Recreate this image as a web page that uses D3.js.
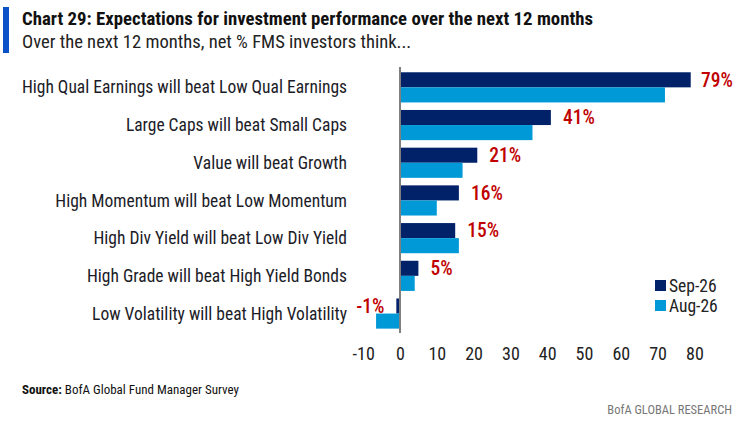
<!DOCTYPE html>
<html>
<head>
<meta charset="utf-8">
<script src="https://cdn.jsdelivr.net/npm/d3@7"></script>
<style>
  body { margin: 0; background: #fff; }
  text { font-family: "Liberation Sans Narrow", "Roboto Condensed", Roboto, sans-serif; }
</style>
</head>
<body>
<div id="graph-area"></div>
<script>
var categories = [
    "High Qual Earnings will beat Low Qual Earnings",
    "Large Caps will beat Small Caps",
    "Value will beat Growth",
    "High Momentum will beat Low Momentum",
    "High Div Yield will beat Low Div Yield",
    "High Grade will beat High Yield Bonds",
    "Low Volatility will beat High Volatility"
];
var sep26 = [79, 41, 21, 16, 15, 5, -1];
var aug26 = [72, 36, 17, 10, 16, 4, -6.5];
var seriesNames = ["Sep-26", "Aug-26"];
var tickValues = [-10, 0, 10, 20, 30, 40, 50, 60, 70, 80];

var width = 741, height = 421;

var svg = d3.select("#graph-area").append("svg")
    .attr("width", width)
    .attr("height", height);

var color = d3.scaleOrdinal().domain(seriesNames).range(["#012169", "#0099D8"]);

var x = d3.scaleLinear()
    .domain([-10, 80])
    .range([363.2, 694.4]);

var y = d3.scaleBand()
    .domain(categories)
    .range([68.5, 332.4])
    .paddingInner(0.2)
    .paddingOuter(0.1);

var ySeries = d3.scaleBand()
    .domain(seriesNames)
    .range([0, y.bandwidth()]);

// header
svg.append("rect")
    .attr("x", 3).attr("y", 7)
    .attr("width", 6).attr("height", 46)
    .attr("fill", "#0a50c8");

svg.append("text")
    .attr("x", 22).attr("y", 25)
    .attr("font-size", 18.8)
    .attr("font-weight", "bold")
    .attr("fill", "#111")
    .text("Chart 29: Expectations for investment performance over the next 12 months");

svg.append("text")
    .attr("x", 22).attr("y", 48)
    .attr("font-size", 18.6)
    .attr("fill", "#222")
    .text("Over the next 12 months, net % FMS investors think...");

// data rows
var rows = categories.map(function(c, i) {
    return { name: c, values: [
        { key: "Sep-26", value: sep26[i] },
        { key: "Aug-26", value: aug26[i] }
    ]};
});

var groups = svg.selectAll(".row")
    .data(rows)
    .enter().append("g")
    .attr("class", "row")
    .attr("transform", function(d) { return "translate(0," + y(d.name) + ")"; });

groups.selectAll("rect")
    .data(function(d) { return d.values; })
    .enter().append("rect")
    .attr("x", function(d) { return x(Math.min(0, d.value)); })
    .attr("y", function(d) { return ySeries(d.key); })
    .attr("width", function(d) { return Math.abs(x(d.value) - x(0)); })
    .attr("height", ySeries.bandwidth())
    .attr("fill", function(d) { return color(d.key); });

// category labels
svg.selectAll(".cat")
    .data(categories)
    .enter().append("text")
    .attr("class", "cat")
    .attr("x", 347)
    .attr("y", function(d) { return y(d) + ySeries("Sep-26") + ySeries.bandwidth(); })
    .attr("dy", "0.35em")
    .attr("text-anchor", "end")
    .attr("font-size", 17.5)
    .attr("fill", "#1c1c28")
    .text(function(d) { return d; });

// value labels for Sep-26
svg.selectAll(".val")
    .data(rows)
    .enter().append("text")
    .attr("class", "val")
    .attr("font-size", 19.5)
    .attr("font-weight", 500)
    .attr("fill", "#c00000")
    .attr("y", function(d) { return y(d.name) + ySeries("Sep-26") + ySeries.bandwidth() / 2; })
    .attr("dy", "0.35em")
    .text(function(d) { return d.values[0].value + "%"; })
    .each(function(d) {
        var v = d.values[0].value, el = d3.select(this);
        if (v < 0) {
            el.attr("text-anchor", "end").attr("x", x(v) - 12);
        } else {
            var w = this.getComputedTextLength();
            el.attr("x", Math.min(x(v) + 12, 733 - w));
        }
    });

// zero line
svg.append("line")
    .attr("x1", x(0)).attr("x2", x(0))
    .attr("y1", 67).attr("y2", 333)
    .attr("stroke", "#7f7f7f")
    .attr("stroke-width", 2);

// x axis labels
var xAxis = d3.axisBottom(x)
    .tickValues(tickValues)
    .tickFormat(function(d) { return String(d); })
    .tickSize(0)
    .tickPadding(0);

svg.append("g")
    .attr("transform", "translate(0,347)")
    .call(xAxis)
    .call(function(g) { g.select(".domain").remove(); })
    .selectAll("text")
    .attr("font-size", 18)
    .attr("font-family", null)
    .attr("fill", "#222");

// legend
var legend = svg.selectAll(".legend")
    .data(seriesNames)
    .enter().append("g")
    .attr("class", "legend")
    .attr("transform", function(d, i) { return "translate(655," + (280 + i * 20) + ")"; });

legend.append("rect")
    .attr("width", 11).attr("height", 11)
    .attr("fill", function(d) { return color(d); });

legend.append("text")
    .attr("x", 14).attr("y", 5.5)
    .attr("dy", "0.35em")
    .attr("font-size", 17.5)
    .attr("fill", "#222")
    .text(function(d) { return d; });

// footer
var src = svg.append("text")
    .attr("x", 22).attr("y", 394)
    .attr("font-size", 13)
    .attr("fill", "#111");
src.append("tspan").attr("font-weight", "bold").text("Source:");
src.append("tspan").text(" BofA Global Fund Manager Survey");

svg.append("text")
    .attr("x", 732).attr("y", 414)
    .attr("text-anchor", "end")
    .attr("font-size", 12.5)
    .attr("fill", "#777")
    .text("BofA GLOBAL RESEARCH");
</script>
</body>
</html>
